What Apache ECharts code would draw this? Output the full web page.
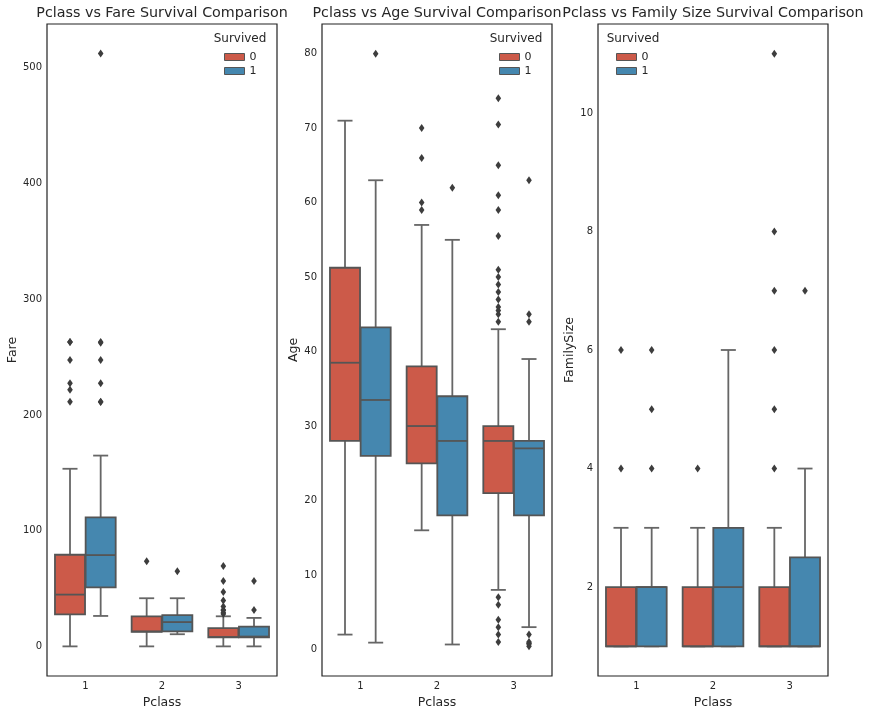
<!DOCTYPE html>
<html>
<head>
<meta charset="utf-8">
<script src="https://cdn.jsdelivr.net/npm/echarts@6/dist/echarts.min.js"></script>
<style>
html, body { margin: 0; padding: 0; background: #fff; }
#chart { width: 872px; height: 714px; }
</style>
</head>
<body>
<div id="chart"></div>
<script>
// categories
var pclass = ['1', '2', '3'];
var survived = ['0', '1'];

// box stats per Pclass: [min whisker, Q1, median, Q3, max whisker]
var fareDied = [[0, 27.6, 44.75, 79.2, 153.5], [0, 12.5, 13, 26, 41.6], [0, 7.75, 8.05, 15.8, 26]];
var fareSurv = [[26.3, 51, 78.9, 111.5, 164.9], [10.5, 13, 21, 27, 41.6], [0, 7.8, 8.5, 17, 24.6]];
var ageDied = [[2, 28, 38.5, 51.25, 71], [16, 25, 30, 38, 57], [8, 21, 28, 30, 43]];
var ageSurv = [[0.92, 26, 33.5, 43.25, 63], [0.67, 18, 28, 34, 55], [3, 18, 27, 28, 39]];
var famDied = [[1, 1, 1, 2, 3], [1, 1, 1, 2, 3], [1, 1, 1, 2, 3]];
var famSurv = [[1, 1, 2, 2, 3], [1, 1, 2, 3, 6], [1, 1, 1, 2.5, 4]];

// outliers per Pclass
var fareDiedOut = [[263, 263, 247.5, 227.5, 221.8, 211.5], [73.5], [69.55, 56.5, 46.9, 39.7, 34.4, 31.4, 31.3, 29.1, 27.9]];
var fareSurvOut = [[512.3, 263, 262.4, 247.5, 227.5, 211.3, 211.5], [65], [56.5, 31.4]];
var ageDiedOut = [[], [70, 66, 60, 59], [74, 70.5, 65, 61, 59, 55.5, 51, 50, 49, 48, 47, 46, 45.5, 45, 44, 7, 6, 4, 3, 2, 1]];
var ageSurvOut = [[80], [62], [63, 45, 44, 2, 1, 0.83, 0.75, 0.42]];
var famDiedOut = [[6, 4], [4], [11, 8, 7, 6, 5, 4]];
var famSurvOut = [[6, 5, 4], [], [7]];

// axis limits and tick labels
var fareRange = [-25.6, 537.9];
var ageRange = [-3.56, 83.98];
var famRange = [0.5, 11.5];
var fareTicks = [0, 100, 200, 300, 400, 500];
var ageTicks = [0, 10, 20, 30, 40, 50, 60, 70, 80];
var famTicks = [2, 4, 6, 8, 10];

var titles = ['Pclass vs Fare Survival Comparison', 'Pclass vs Age Survival Comparison', 'Pclass vs Family Size Survival Comparison'];
var yNames = ['Fare', 'Age', 'FamilySize'];

var colors = ['#cc5a49', '#4587af'];
var FONT = 'DejaVu Sans';
var lineCol = '#555555';
var whiskCol = '#666666';

var grids = [47, 322, 598];
var legendLeft = [224, 499, 616];
var surviveX = [240, 516, 633];

function boxRender(hue) {
    return function (params, api) {
        var cat = api.value(0);
        var band = api.size([1, 0])[0];
        var w = band * 0.4 * 0.98;
        var cx = api.coord([cat, 0])[0] + (hue - 0.5) * band * 0.4;
        var yMin = api.coord([cat, api.value(1)])[1];
        var yQ1 = api.coord([cat, api.value(2)])[1];
        var yMed = api.coord([cat, api.value(3)])[1];
        var yQ3 = api.coord([cat, api.value(4)])[1];
        var yMax = api.coord([cat, api.value(5)])[1];
        var ls = {stroke: whiskCol, lineWidth: 1.8};
        return {
            type: 'group',
            children: [
                {type: 'line', shape: {x1: cx, y1: yQ1, x2: cx, y2: yMin}, style: ls},
                {type: 'line', shape: {x1: cx, y1: yQ3, x2: cx, y2: yMax}, style: ls},
                {type: 'line', shape: {x1: cx - w / 4, y1: yMin, x2: cx + w / 4, y2: yMin}, style: ls},
                {type: 'line', shape: {x1: cx - w / 4, y1: yMax, x2: cx + w / 4, y2: yMax}, style: ls},
                {type: 'rect', shape: {x: cx - w / 2, y: yQ3, width: w, height: yQ1 - yQ3},
                    style: {fill: colors[hue], stroke: lineCol, lineWidth: 1.8}},
                {type: 'line', shape: {x1: cx - w / 2, y1: yMed, x2: cx + w / 2, y2: yMed},
                    style: {stroke: lineCol, lineWidth: 1.8}}
            ]
        };
    };
}

function flierRender(hue) {
    return function (params, api) {
        var cat = api.value(0);
        var band = api.size([1, 0])[0];
        var p = api.coord([cat, api.value(1)]);
        var cx = p[0] + (hue - 0.5) * band * 0.4;
        var cy = p[1];
        return {
            type: 'polygon',
            shape: {points: [[cx, cy - 4], [cx + 2.8, cy], [cx, cy + 4], [cx - 2.8, cy]]},
            style: {fill: '#3d3d3d'}
        };
    };
}

function statData(stats) {
    return stats.map(function (s, i) { return [i].concat(s); });
}
function outData(outs) {
    var res = [];
    outs.forEach(function (list, i) {
        list.forEach(function (v) { res.push([i, v]); });
    });
    return res;
}

var panels = [
    {stats: [fareDied, fareSurv], outs: [fareDiedOut, fareSurvOut], range: fareRange, ticks: fareTicks, gap: 28},
    {stats: [ageDied, ageSurv], outs: [ageDiedOut, ageSurvOut], range: ageRange, ticks: ageTicks, gap: 22},
    {stats: [famDied, famSurv], outs: [famDiedOut, famSurvOut], range: famRange, ticks: famTicks, gap: 21}
];

var option = {
    animation: false,
    backgroundColor: '#fff',
    title: [],
    legend: [],
    grid: [],
    xAxis: [],
    yAxis: [],
    series: []
};

panels.forEach(function (pn, p) {
    option.title.push({
        text: titles[p], left: grids[p] + 115, top: 6, textAlign: 'center', padding: 0,
        textStyle: {fontFamily: FONT, fontSize: 14.3, fontWeight: 'normal', color: '#262626'}
    });
    option.title.push({
        text: 'Survived', left: surviveX[p], top: 33, textAlign: 'center', padding: 0,
        textStyle: {fontFamily: FONT, fontSize: 12, fontWeight: 'normal', color: '#262626'}
    });
    option.legend.push({
        data: survived, orient: 'vertical', left: legendLeft[p], top: 50, padding: 0,
        itemWidth: 20, itemHeight: 7, itemGap: 0, icon: 'rect', selectedMode: false,
        itemStyle: {borderColor: '#555', borderWidth: 1},
        textStyle: {fontFamily: FONT, fontSize: 11, color: '#262626', lineHeight: 14}
    });
    option.grid.push({
        left: grids[p], top: 24, width: 230, height: 652, show: true,
        borderColor: '#222', borderWidth: 1.2, backgroundColor: 'transparent'
    });
    option.xAxis.push({
        type: 'category', gridIndex: p, data: pclass,
        axisTick: {show: false}, axisLine: {show: false},
        axisLabel: {fontFamily: FONT, fontSize: 10, color: '#262626', margin: 5},
        name: 'Pclass', nameLocation: 'middle', nameGap: 17,
        nameTextStyle: {fontFamily: FONT, fontSize: 12.5, color: '#262626'}
    });
    option.yAxis.push({
        type: 'value', gridIndex: p, min: pn.range[0], max: pn.range[1],
        splitLine: {show: false}, axisTick: {show: false}, axisLine: {show: false},
        axisLabel: {customValues: pn.ticks, fontFamily: FONT, fontSize: 10, color: '#262626', margin: 5},
        name: yNames[p], nameLocation: 'middle', nameGap: pn.gap,
        nameTextStyle: {fontFamily: FONT, fontSize: 12.5, color: '#262626'}
    });
    [0, 1].forEach(function (h) {
        option.series.push({
            type: 'custom', name: survived[h], xAxisIndex: p, yAxisIndex: p,
            itemStyle: {color: colors[h]},
            encode: {x: 0, y: [1, 2, 3, 4, 5]},
            renderItem: boxRender(h),
            data: statData(pn.stats[h])
        });
    });
    [0, 1].forEach(function (h) {
        option.series.push({
            type: 'custom', name: 'outliers', xAxisIndex: p, yAxisIndex: p, z: 3,
            encode: {x: 0, y: 1},
            renderItem: flierRender(h),
            data: outData(pn.outs[h])
        });
    });
});

echarts.init(document.getElementById('chart')).setOption(option);
</script>
</body>
</html>
